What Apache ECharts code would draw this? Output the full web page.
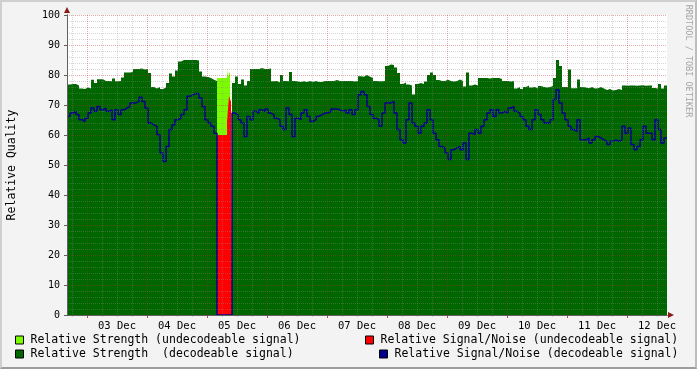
<!DOCTYPE html>
<html><head><meta charset="utf-8">
<script src="https://cdn.jsdelivr.net/npm/echarts@6/dist/echarts.min.js"></script>
<style>
html,body{margin:0;padding:0;background:#F3F3F3;}
#wrap{position:relative;width:697px;height:369px;overflow:hidden;}
#chart{position:absolute;left:0;top:0;width:697px;height:369px;}
#frame{position:absolute;left:0;top:0;width:697px;height:369px;box-sizing:border-box;border-top:2px solid #CFCFCF;border-left:2px solid #CFCFCF;border-right:2px solid #BDBDBD;border-bottom:2px solid #9C9C9C;pointer-events:none;}
</style></head>
<body><div id="wrap"><div id="chart"></div><div id="frame"></div></div>
<script>
// time slots: 1 slot = 24 min, 600 slots = 02 Dec 16:00 .. 12 Dec 16:00
const SLOTS = 600;
const STEP = 3; // samples every 3 slots (72 min)
const DAY_LABELS = ['03 Dec','04 Dec','05 Dec','06 Dec','07 Dec','08 Dec','09 Dec','10 Dec','11 Dec','12 Dec'];

const strength = [
 76.8,77,77,76.5,75.5,75.3,75.8,75.5,78.4,77.3,
 78.6,78.6,78,78,77.9,78.8,77.9,78,79.2,80.8,
 80.8,81,82,82,82.2,81.8,82,80.7,76,75.5,
 76,75.3,75.8,77.3,80.5,79.5,81.5,84.5,85,85,
 85,85,85,84.8,81.2,79.5,79.3,79,78.4,78,
 0,0,0,0,0,77.3,79.5,77,78.5,76.5,
 78,82,82,82,82.3,82,82,82.2,77.9,78,
 77.5,80,78,77.9,81,78,77.8,77.7,77.9,77.7,
 78,77.7,78,77.7,77.7,78,78,78,78,78.3,
 78,78,78,78,78,77.8,78,79.6,79.4,80,
 79.4,79,78,77.9,77.9,78,83,83.5,83.3,82.5,
 80.7,77,77.5,76.8,76.5,73.5,77,77.3,77,77.8,
 80,80.8,80,78.3,78,78,78.4,78,77.8,78,
 78.5,78,76.2,80.8,76.5,76.8,76.5,79,79,79,
 78.8,79,79,79,78.7,78,78,77.8,78,75.5,
 76,75.3,76,76.5,75.8,76,75.5,76.3,76,75.8,
 76,76.3,79,85,83,76,76,81.8,75.6,75.6,
 78.5,76,75.8,75.6,76,75.5,75.6,76,75.5,75,
 75.3,74.8,75,75.3,75,76.5,76.4,76.5,76.5,76.4,
 76.5,76.6,76.4,76.5,76.5,75.7,75.5,77,75.5,76.5
];

const snr = [
 66.2,67.3,67.9,66.8,65.1,64.5,65.6,67.3,69,67.9,
 69.5,68.4,69,67.9,68.4,65.1,68.4,66.8,68.4,69,
 69.5,70.7,70.7,71.2,72.6,71.2,69,64,63.4,62.9,
 60.1,54,51.2,56.2,61.8,63.4,65.1,65.6,66.8,68.4,
 72.9,73.4,73.8,73.8,72.3,69.5,65.1,64,62.9,60.6,
 0,0,0,0,0,67.3,66.8,65.1,64,59.5,
 66.2,65.1,67.9,67.3,68.4,67.9,68.7,67.3,66.8,65.6,
 65.1,62.9,61.8,69,66.8,59.5,65.6,65.1,67.3,68.4,
 66.2,64.5,65.1,66.2,66.8,67.3,67.3,67.9,68.7,68.7,
 68.4,67.9,68.4,67.3,68.4,66.8,68.4,73.4,74.5,73.4,
 69.5,66.8,65.6,65.1,62.9,67.3,70.7,70.7,71.2,67.3,
 61.8,58.4,57.3,65.1,70.7,64,62.9,60.6,62.9,64,
 68.4,65.1,60.6,58.4,56.2,55.7,54,51.8,55.1,55.7,
 56.2,55.1,57.3,51.8,60.6,60.1,61.8,60.6,62.9,65.1,
 67.3,68.4,66.2,68.4,67.3,67.9,67.3,69,69.5,67.9,
 67.3,66.2,65.1,62.9,61.8,65.1,68.4,66.8,65.1,64,
 64,65.1,71.8,75.1,70.7,67.3,65.1,62.9,61.8,61.2,
 65.1,58.4,58.4,59,57.3,58.4,59.5,59,58.4,57.9,
 56.8,57.9,58.4,57.9,58.4,62.9,60.6,62.3,56.8,55.1,
 56.2,58.4,62.9,60.6,60.6,58.4,65.1,61.8,57.3,59
];

// undecodeable periods, given as change points (slot, value)
const undecStrengthT = [150,160,161,163,165,400,401,587,588];
const undecStrengthV = [79,82,79.5,81.2,0,90,0,78,0];
const undecSnrT = [150,160,162,164,165];
const undecSnrV = [60,64.5,73,71,0];

const NAMES = ['Relative Strength (undecodeable signal)','Relative Strength  (decodeable signal)',
  'Relative Signal/Noise (undecodeable signal)','Relative Signal/Noise (decodeable signal)'];
const COLORS = ['#7CFC00','#006600','#FF0000','#00008C'];

const FONT = '"DejaVu Sans Mono", monospace';
const GRID_GRAY = 'rgba(140,140,140,0.36)';
const GRID_RED = 'rgba(190,40,40,0.38)';

const cats = [];
for (let i = 0; i <= SLOTS; i++) cats.push(String(i));
const isMajor = i => (i - 20) % 60 === 0;
const isMinor = i => (i - 5) % 15 === 0 && !isMajor(i);
const isLabel = i => i >= 50 && (i - 50) % 60 === 0;

const pairs = (ts, vs) => ts.map((t, i) => [t, vs[i]]);
const regular = vs => { const d = vs.map((v, i) => [i * STEP, v]); d.push([SLOTS, vs[vs.length - 1]]); return d; };

const chart = echarts.init(document.getElementById('chart'), null, {renderer: 'canvas'});
const areaSeries = (name, color, data) => ({
  name, type: 'line', step: 'end', data, z: 1, silent: true,
  showSymbol: false, symbol: 'none', color,
  lineStyle: {width: 0, opacity: 0},
  areaStyle: {color, opacity: 1}
});
const legendItem = (idx, left, top) => ({
  left, top, padding: 0, itemWidth: 8, itemHeight: 8, selectedMode: false,
  data: [{name: NAMES[idx], icon: 'rect', itemStyle: {color: COLORS[idx], borderColor: '#000', borderWidth: 1}}],
  textStyle: {fontFamily: FONT, fontSize: 11.5, color: '#000', padding: [0, 0, 0, 2]}
});

chart.setOption({
  animation: false,
  backgroundColor: '#F3F3F3',
  textStyle: {fontFamily: FONT},
  grid: {left: 67, top: 15, width: 600, height: 300, show: true, backgroundColor: '#FFFFFF', borderWidth: 0,
    containLabel: false, outerBoundsMode: 'none'},
  legend: [legendItem(0, 15, 334), legendItem(1, 15, 348), legendItem(2, 365, 334), legendItem(3, 379, 348)],
  graphic: [{
    type: 'text', x: 688, y: 61, rotation: -Math.PI / 2, silent: true,
    style: {text: 'RRDTOOL / TOBI OETIKER', fontFamily: FONT, fontSize: 8.5, fill: '#A5A5A5', align: 'center', verticalAlign: 'middle'}
  }],
  xAxis: [{
    type: 'category', data: cats, boundaryGap: false, position: 'bottom', z: 4,
    axisLine: {show: true, onZero: false, lineStyle: {color: '#606060', width: 1}},
    axisTick: {show: true, interval: isMajor, length: 3, lineStyle: {color: 'rgba(170,40,40,0.8)'}},
    axisLabel: {show: true, interval: isLabel, margin: 6, fontFamily: FONT, fontSize: 10.5, color: '#000',
      formatter: v => { const k = (Number(v) - 50) / 60; return DAY_LABELS[k] || ''; }},
    splitLine: {show: true, interval: isMajor, lineStyle: {color: GRID_RED, width: 1, type: [1, 1]}}
  }, {
    type: 'category', data: cats, boundaryGap: false, position: 'bottom', offset: 0, z: 3,
    axisLine: {show: true, onZero: false, symbol: ['none', 'triangle'], symbolSize: [6, 6], symbolOffset: [0, 4], lineStyle: {color: '#8B1A1A', width: 1}},
    axisTick: {show: true, interval: isMinor, length: 2, lineStyle: {color: GRID_GRAY}},
    axisLabel: {show: false},
    splitLine: {show: true, interval: isMinor, lineStyle: {color: GRID_GRAY, width: 1, type: [1, 1]}}
  }],
  yAxis: [{
    type: 'value', min: 0, max: 100, interval: 10, position: 'left', z: 4,
    name: 'Relative Quality', nameLocation: 'middle', nameGap: 49, nameRotate: 90,
    nameTextStyle: {fontFamily: FONT, fontSize: 11.5, color: '#000'},
    axisLine: {show: true, lineStyle: {color: '#606060', width: 1}},
    axisTick: {show: true, length: 3, lineStyle: {color: '#606060'}},
    axisLabel: {fontFamily: FONT, fontSize: 10, color: '#000', margin: 7},
    splitLine: {show: true, lineStyle: {color: GRID_RED, width: 1, type: [1, 1]}},
    minorTick: {show: false, splitNumber: 5},
    minorSplitLine: {show: true, lineStyle: {color: GRID_GRAY, width: 1, type: [1, 1]}}
  }, {
    type: 'value', min: 0, max: 100, interval: 10, position: 'left', offset: 0, z: 3,
    axisLine: {show: true, symbol: ['none', 'triangle'], symbolSize: [6, 6], symbolOffset: [0, 5], lineStyle: {color: '#8B1A1A', width: 1}},
    axisTick: {show: false}, axisLabel: {show: false}, splitLine: {show: false}
  }],
  series: [
    areaSeries(NAMES[0], COLORS[0], pairs(undecStrengthT, undecStrengthV)),
    areaSeries(NAMES[1], COLORS[1], regular(strength)),
    areaSeries(NAMES[2], COLORS[2], pairs(undecSnrT, undecSnrV)),
    {
      name: NAMES[3], type: 'line', step: 'end', data: regular(snr), z: 1, silent: true,
      showSymbol: false, symbol: 'none', color: COLORS[3],
      lineStyle: {width: 1.5, color: COLORS[3]}
    }
  ]
});
</script>
</body></html>
